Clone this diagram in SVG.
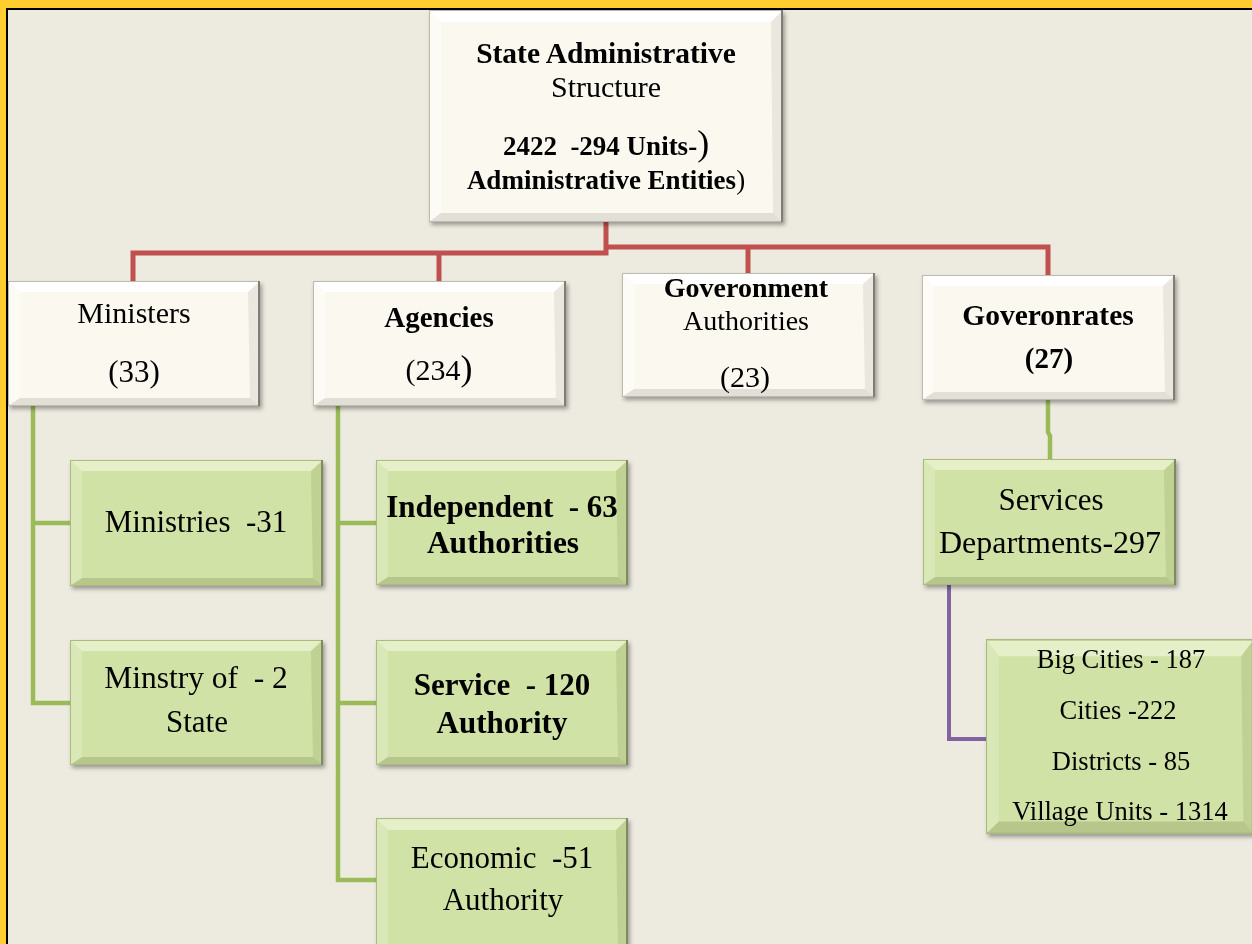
<svg xmlns="http://www.w3.org/2000/svg" xmlns:xlink="http://www.w3.org/1999/xlink" width="1252" height="944" viewBox="0 0 1252 944">
<style>
.t{font-family:"Liberation Serif","Times New Roman",serif;fill:#000;text-anchor:middle;white-space:pre}
.b{font-weight:bold}
.red{fill:none;stroke:#C0504D;stroke-width:5;stroke-linejoin:miter}
.grn{fill:none;stroke:#9BBB59;stroke-width:4.5}
.pur{fill:none;stroke:#8064A2;stroke-width:4}
</style>
<defs>
<filter id="sh" x="-10%" y="-10%" width="125%" height="130%">
<feDropShadow dx="2" dy="3" stdDeviation="2" flood-color="#000" flood-opacity="0.35"/>
</filter>
<symbol id="cream" viewBox="0 0 252 125" preserveAspectRatio="none">
<rect x="0" y="0" width="252" height="125" fill="#FBF9EF"/>
<polygon points="0,0 252,0 240,11 12,11" fill="#FFFFFF"/>
<polygon points="0,0 12,11 12,117 0,125" fill="#FFFFFF" opacity="0.4"/>
<polygon points="252,0 252,125 242,117 240,11" fill="#000" opacity="0.07"/>
<polygon points="0,125 252,125 242,117 12,117" fill="#000" opacity="0.1"/>
<rect x="0.5" y="0.5" width="251" height="124" fill="none" stroke="#BDBBB0" stroke-width="1"/>
<line x1="251" y1="0" x2="251" y2="125" stroke="#7F7D75" stroke-width="2"/>
</symbol>
<symbol id="creamBig" viewBox="0 0 354 212" preserveAspectRatio="none">
<rect x="0" y="0" width="354" height="212" fill="#FBF9EF"/>
<polygon points="0,0 354,0 342,12 12,12" fill="#FFFFFF"/>
<polygon points="0,0 12,12 12,203 0,212" fill="#FFFFFF" opacity="0.4"/>
<polygon points="354,0 354,212 344,203 342,12" fill="#000" opacity="0.07"/>
<polygon points="0,212 354,212 344,203 12,203" fill="#000" opacity="0.1"/>
<rect x="0.5" y="0.5" width="353" height="211" fill="none" stroke="#BDBBB0" stroke-width="1"/>
<line x1="353" y1="0" x2="353" y2="212" stroke="#7F7D75" stroke-width="2"/>
</symbol>
<symbol id="green" viewBox="0 0 252 125" preserveAspectRatio="none">
<rect x="0" y="0" width="252" height="125" fill="#D1E2A6"/>
<polygon points="0,0 252,0 240,11 12,11" fill="#E6F0C8"/>
<polygon points="0,0 12,11 12,117 0,125" fill="#FFFFFF" opacity="0.2"/>
<polygon points="252,0 252,125 242,117 240,11" fill="#5A6B2E" opacity="0.14"/>
<polygon points="0,125 252,125 242,117 12,117" fill="#5A6B2E" opacity="0.22"/>
<rect x="0.5" y="0.5" width="251" height="124" fill="none" stroke="#A9BC7C" stroke-width="1"/>
<line x1="251" y1="0" x2="251" y2="125" stroke="#7F8A63" stroke-width="2"/>
</symbol>
</defs>

<rect x="0" y="0" width="1252" height="944" fill="#FFCD2E"/>
<rect x="7" y="9" width="1250" height="940" fill="#EDEBE0" stroke="#000" stroke-width="2"/>

<g id="connectors">
<path class="red" d="M606,222 V253 H133 V281"/>
<path class="red" d="M439,253 V281"/>
<path class="red" d="M606,247 H1048 V275"/>
<path class="red" d="M748,247 V273"/>
<path class="grn" d="M33,406 V703 H70"/>
<path class="grn" d="M33,523 H70"/>
<path class="grn" d="M338,406 V880 H376"/>
<path class="grn" d="M338,523 H376"/>
<path class="grn" d="M338,703 H376"/>
<path class="grn" d="M1048,400 V432 L1050,436 V459"/>
<path class="pur" d="M949,585 V739 H986"/>
</g>

<g id="root" filter="url(#sh)">
<use xlink:href="#creamBig" x="429" y="10" width="354" height="212"/>
<text class="t b" x="606" y="63" font-size="29.5">State Administrative</text>
<text class="t" x="606" y="97" font-size="30">Structure</text>
<text class="t b" x="606" y="155" font-size="27">2422  -294 Units-<tspan font-size="36" font-weight="normal">)</tspan></text>
<text class="t b" x="606" y="189" font-size="27">Administrative Entities<tspan font-weight="normal">)</tspan></text>
</g>

<g id="ministers" filter="url(#sh)">
<use xlink:href="#cream" x="8" y="281" width="252" height="125"/>
<text class="t" x="134" y="323" font-size="30">Ministers</text>
<text class="t" x="134" y="382" font-size="31">(33)</text>
</g>

<g id="agencies" filter="url(#sh)">
<use xlink:href="#cream" x="313" y="281" width="253" height="125"/>
<text class="t b" x="439" y="327" font-size="29">Agencies</text>
<text class="t" x="439" y="380" font-size="30">(234<tspan font-size="36">)</tspan></text>
</g>

<g id="gov-authorities" filter="url(#sh)">
<use xlink:href="#cream" x="622" y="273" width="253" height="124"/>
<text class="t b" x="746" y="297" font-size="28">Goveronment</text>
<text class="t" x="746" y="330" font-size="28">Authorities</text>
<text class="t" x="745" y="387" font-size="30">(23)</text>
</g>

<g id="governorates" filter="url(#sh)">
<use xlink:href="#cream" x="922" y="275" width="253" height="125"/>
<text class="t b" x="1048" y="325" font-size="29.5">Goveronrates</text>
<text class="t b" x="1049" y="368" font-size="29">(27)</text>
</g>

<g id="ministries" filter="url(#sh)">
<use xlink:href="#green" x="70" y="460" width="253" height="126"/>
<text class="t" x="196" y="532" font-size="31">Ministries  -31</text>
</g>

<g id="ministry-of-state" filter="url(#sh)">
<use xlink:href="#green" x="70" y="640" width="253" height="125"/>
<text class="t" x="196" y="688" font-size="31.5">Minstry of  - 2</text>
<text class="t" x="197" y="732" font-size="31">State</text>
</g>

<g id="independent" filter="url(#sh)">
<use xlink:href="#green" x="376" y="460" width="252" height="125"/>
<text class="t b" x="502" y="517" font-size="31">Independent  - 63</text>
<text class="t b" x="503" y="553" font-size="31.5">Authorities</text>
</g>

<g id="service-authority" filter="url(#sh)">
<use xlink:href="#green" x="376" y="640" width="252" height="125"/>
<text class="t b" x="502" y="695" font-size="31">Service  - 120</text>
<text class="t b" x="502" y="733" font-size="31">Authority</text>
</g>

<g id="economic" filter="url(#sh)">
<use xlink:href="#green" x="376" y="818" width="252" height="135"/>
<text class="t" x="502" y="868" font-size="31">Economic  -51</text>
<text class="t" x="503" y="910" font-size="31">Authority</text>
</g>

<g id="services-departments" filter="url(#sh)">
<use xlink:href="#green" x="923" y="459" width="253" height="126"/>
<text class="t" x="1051" y="510" font-size="31">Services</text>
<text class="t" x="1050" y="553" font-size="32">Departments-297</text>
</g>

<g id="local-units" filter="url(#sh)">
<use xlink:href="#green" x="986" y="639" width="268" height="195"/>
<text class="t" x="1121" y="668" font-size="26.5">Big Cities - 187</text>
<text class="t" x="1118" y="719" font-size="26.5">Cities -222</text>
<text class="t" x="1121" y="770" font-size="26.5">Districts - 85</text>
<text class="t" x="1120" y="820" font-size="26.5">Village Units - 1314</text>
</g>
</svg>
